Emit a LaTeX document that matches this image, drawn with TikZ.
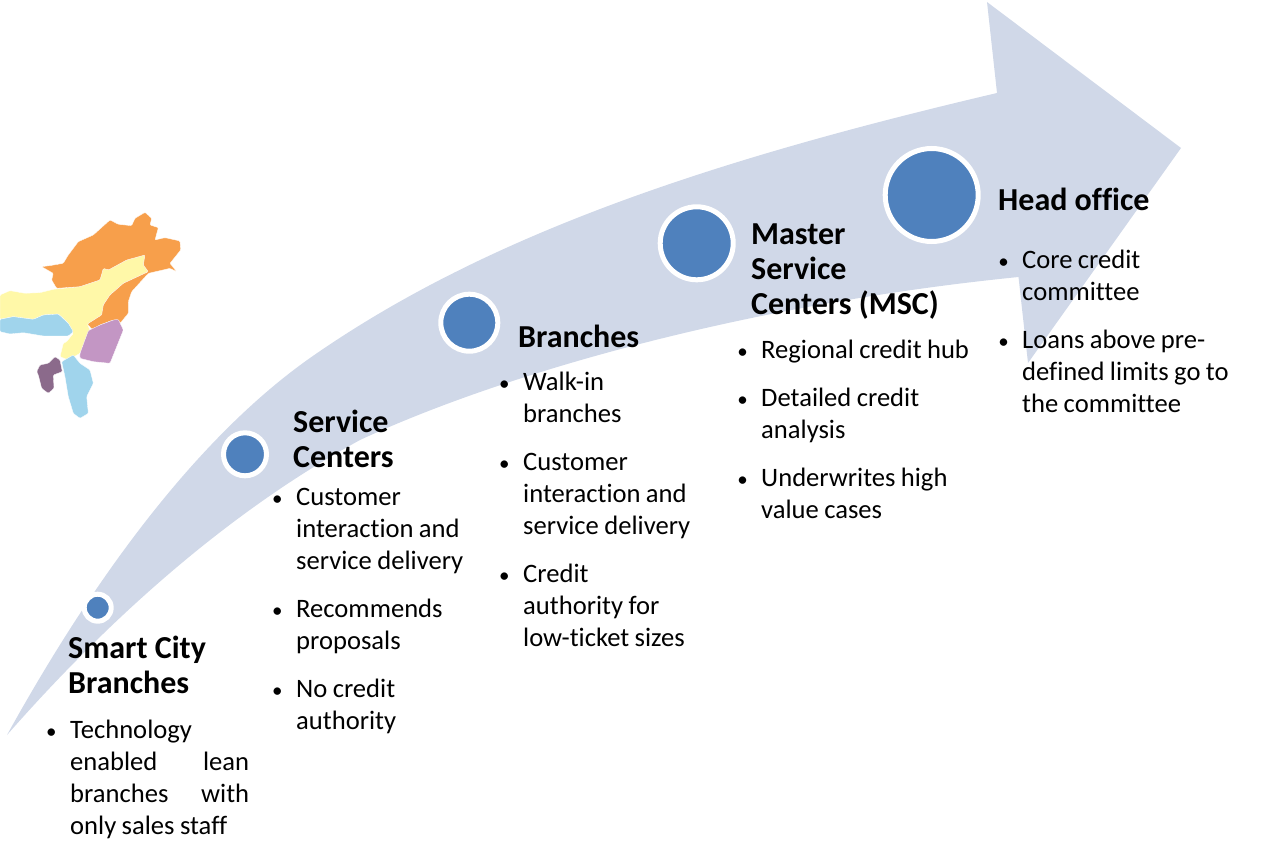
\documentclass[tikz,border=0pt]{standalone}
\usepackage{fontspec}
\setmainfont[RawFeature={-liga}]{Carlito}
\definecolor{arrowfill}{HTML}{D0D8E8}
\definecolor{dotblue}{HTML}{4F81BD}
\definecolor{maporange}{HTML}{F79F4B}
\definecolor{mapyellow}{HTML}{FFF8A8}
\definecolor{mapblue}{HTML}{A0D4EC}
\definecolor{mappurple}{HTML}{C396C4}
\definecolor{mapdark}{HTML}{8B6A8B}
\newcommand{\bul}[1]{\par\noindent\llap{\fontsize{21}{32}\selectfont\textbullet\hskip 13.5pt}#1\par}
\newcommand{\just}[2]{\makebox[179pt][s]{#1\hfill #2}}
\tikzset{
  dot/.style={circle,fill=dotblue,draw=white,line width=5pt,inner sep=0pt,minimum size=#1},
  head/.style={anchor=north west,inner sep=0pt,align=left,font=\fontsize{32}{35}\selectfont\bfseries},
  body/.style={anchor=north west,inner sep=0pt,text width=#1,font=\fontsize{26.6}{32}\selectfont,
    execute at begin node={\parskip=16pt\parindent=0pt\rightskip=0pt plus 1fil\spaceskip=5.4pt\relax}},
  region/.style={fill=#1,draw=white,line width=0.3pt,rounded corners=1pt}
}
\begin{document}
\begin{tikzpicture}[x=1pt,y=-1pt]
\useasboundingbox (0,0) rectangle (1287,843);
% arrow
\fill[arrowfill] (7,735) .. controls (126,520) and (232,413) .. (310,358)
  .. controls (490,232) and (720,158) .. (997,93)
  -- (987,2) -- (1181,148) -- (1028,363) -- (1018.5,277)
  .. controls (740,305) and (500,375) .. (360,440)
  .. controls (250,500) and (130,595) .. (7,735) -- cycle;
% map
\begin{scope}[shift={(0,200)},x=0.3333pt,y=-0.3333pt]
\fill[region=mapyellow] (0,285)--(30,272)--(75,280)--(120,278)--(160,268)--(240,260)--(300,240)--(310,205)--(325,210)--(380,180)--(435,165)--(430,195)--(445,215)--(370,250)--(330,285)--(310,315)--(305,345)--(262,372)--(270,390)--(240,460)--(205,480)--(180,470)--(190,430)--(200,425)--(220,400)--(205,370)--(175,342)--(130,345)--(100,358)--(40,350)--(0,358)--cycle;
\fill[region=maporange] (125,200)--(150,197)--(190,190)--(205,165)--(235,125)--(280,105)--(330,60)--(355,73)--(395,77)--(405,55)--(435,37)--(455,55)--(450,75)--(475,83)--(465,120)--(495,113)--(540,123)--(542,150)--(510,190)--(530,215)--(510,205)--(445,220)--(395,275)--(385,305)--(385,340)--(360,370)--(340,360)--(300,375)--(280,392)--(262,372)--(305,345)--(310,315)--(330,285)--(370,250)--(445,215)--(430,195)--(435,165)--(380,180)--(325,210)--(310,205)--(300,240)--(240,260)--(170,265)--(155,240)--(160,220)--cycle;
\fill[region=mapblue] (0,358)--(40,350)--(100,358)--(130,345)--(175,342)--(205,370)--(220,395)--(205,408)--(130,408)--(70,398)--(30,402)--(0,395)--cycle;
\fill[region=mappurple] (265,392)--(300,375)--(340,360)--(355,358)--(370,390)--(330,490)--(280,485)--(240,475)--(240,460)--cycle;
\fill[region=mapdark] (110,515)--(120,495)--(145,490)--(165,470)--(180,480)--(187,515)--(160,525)--(162,565)--(145,580)--(125,565)--(115,525)--cycle;
\fill[region=mapblue] (185,485)--(220,465)--(240,490)--(270,510)--(280,550)--(260,590)--(265,640)--(240,655)--(220,640)--(205,590)--(195,530)--cycle;
\end{scope}
% circles
\node[dot=27pt] (d1) at (97.7,607.7) {};
\node[dot=43pt] (d2) at (245,454.3) {};
\node[dot=57pt] (d3) at (469.3,322.7) {};
\node[dot=73pt] (d4) at (696.7,243.3) {};
\node[dot=93pt] (d5) at (931.7,195) {};
% headings
\node[head] (h1) at (68,635.5) {Smart City\\Branches};
\node[head] (h2) at (293,409.5) {Service\\Centers};
\node[head] (h3) at (518,324.5) {Branches};
\node[head] (h4) at (751,223.5) {Master\\Service\\Centers (MSC)};
\node[head] (h5) at (998,187.5) {Head office};
% bodies
\node[body=220pt] (b1) at (70,690) {\bul{\strut Technology\newline \just{enabled}{lean}\newline \just{branches}{with}\newline only sales staff}};
\node[body=220pt] (b2) at (296,457) {\bul{\strut Customer\newline interaction and\newline service delivery}\bul{\strut Recommends\newline proposals}\bul{\strut No credit\newline authority}};
\node[body=220pt] (b3) at (523,342) {\bul{\strut Walk-in\newline branches}\bul{\strut Customer\newline interaction and\newline service delivery}\bul{\strut Credit\newline authority for\newline low-ticket sizes}};
\node[body=230pt] (b4) at (761,310) {\bul{\strut Regional credit hub}\bul{\strut Detailed credit\newline analysis}\bul{\strut Underwrites high\newline value cases}};
\node[body=230pt] (b5) at (1022,220) {\bul{\strut Core credit\newline committee}\bul{\strut Loans above pre-\newline defined limits go to\newline the committee}};
\end{tikzpicture}
\end{document}
